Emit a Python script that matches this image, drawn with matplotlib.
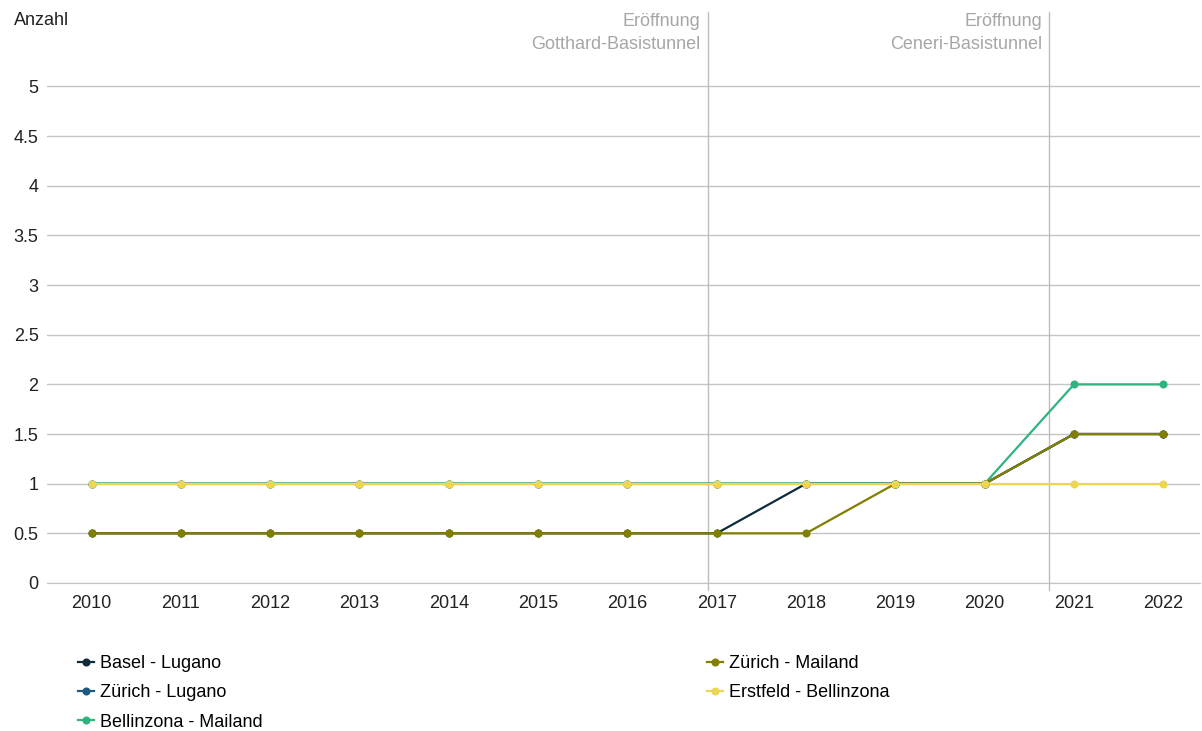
import matplotlib
matplotlib.use("Agg")
import matplotlib.pyplot as plt
from matplotlib.lines import Line2D

plt.rcParams["font.family"] = ["Liberation Sans", "DejaVu Sans"]

# data
years = [2010, 2011, 2012, 2013, 2014, 2015, 2016, 2017, 2018, 2019, 2020, 2021, 2022]
basel_lugano = [0.5, 0.5, 0.5, 0.5, 0.5, 0.5, 0.5, 0.5, 1, 1, 1, 1.5, 1.5]
zuerich_lugano = [1, 1, 1, 1, 1, 1, 1, 1, 1, 1, 1, 1.5, 1.5]
bellinzona_mailand = [1, 1, 1, 1, 1, 1, 1, 1, 1, 1, 1, 2, 2]
zuerich_mailand = [0.5, 0.5, 0.5, 0.5, 0.5, 0.5, 0.5, 0.5, 0.5, 1, 1, 1.5, 1.5]
erstfeld_bellinzona = [1, 1, 1, 1, 1, 1, 1, 1, 1, 1, 1, 1, 1]
y_ticks = [0, 0.5, 1, 1.5, 2, 2.5, 3, 3.5, 4, 4.5, 5]
y_labels = ["0", "0.5", "1", "1.5", "2", "2.5", "3", "3.5", "4", "4.5", "5"]
events = [("Eröffnung\nGotthard-Basistunnel", 6.9), ("Eröffnung\nCeneri-Basistunnel", 10.72)]

series = [
    ("Basel - Lugano", basel_lugano, "#0c2b3d"),
    ("Zürich - Lugano", zuerich_lugano, "#1c5a80"),
    ("Bellinzona - Mailand", bellinzona_mailand, "#2fb47f"),
    ("Zürich - Mailand", zuerich_mailand, "#827f00"),
    ("Erstfeld - Bellinzona", erstfeld_bellinzona, "#ecd653"),
]

FS = 13

fig = plt.figure(figsize=(12.02, 7.31), dpi=100)
ax = fig.add_axes([0.039, 0.2025, 0.9593, 0.7811])

x = list(range(len(years)))
for name, vals, col in series:
    ax.plot(x, vals, color=col, lw=1.6, marker="o", ms=4.8, label=name, zorder=3)

ax.set_xlim(-0.5, 12.41)
ax.set_ylim(0, 5.75)
ax.set_yticks(y_ticks)
ax.set_yticklabels(y_labels)
ax.set_xticks(x)
ax.set_xticklabels([str(y) for y in years])
ax.tick_params(axis="both", length=0, labelsize=FS, colors="#222222")
ax.tick_params(axis="x", pad=9)
ax.tick_params(axis="y", pad=6)
ax.grid(axis="y", color="#c4c4c4", lw=1)
ax.set_axisbelow(True)
for s in ["top", "right", "left"]:
    ax.spines[s].set_visible(False)
ax.spines["bottom"].set_color("#c4c4c4")

for label, xv in events:
    ax.axvline(xv, ymin=-0.012, ymax=1, color="#bdbdbd", lw=1, zorder=1, clip_on=False)
    ax.text(xv - 0.08, 5.74, label, ha="right", va="top", fontsize=FS,
            color="#a6a6a6", linespacing=1.45)

fig.text(0.012, 0.972, "Anzahl", fontsize=FS, color="#222222", va="center")

handles = [Line2D([0], [0], color=c, lw=1.6, marker="o", ms=4.8) for _, _, c in series]
labels = [n for n, _, _ in series]
leg = fig.legend(handles, labels,
                 loc="upper left", bbox_to_anchor=(0.051, 0.126), ncol=2,
                 frameon=False, fontsize=FS, handlelength=0.9, handletextpad=0.35,
                 columnspacing=24.6, labelspacing=0.68)

fig.savefig("out.png", dpi=100)
